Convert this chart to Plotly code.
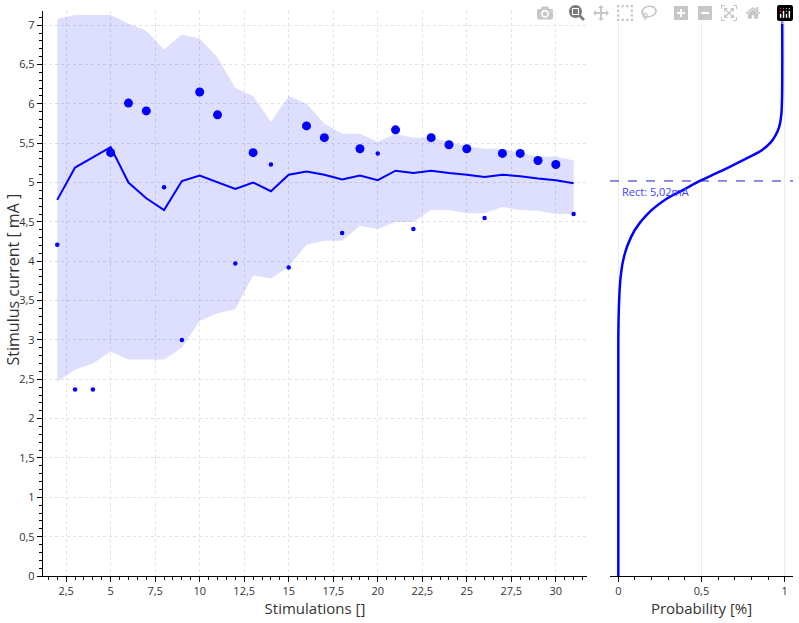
import plotly.graph_objects as go

# Stimulation index
stims = list(range(2, 32))

# Running estimate (solid line) and the confidence band around it
estimate = [4.78, 5.19, 5.32, 5.45, 5.00, 4.80, 4.65, 5.02, 5.09, 5.00,
            4.92, 5.00, 4.89, 5.10, 5.14, 5.10, 5.04, 5.09, 5.03, 5.15,
            5.12, 5.15, 5.12, 5.10, 5.07, 5.10, 5.08, 5.05, 5.03, 4.99]
band_upper = [7.08, 7.13, 7.13, 7.13, 7.02, 6.93, 6.69, 6.88, 6.83, 6.59,
              6.20, 6.10, 5.77, 6.10, 6.00, 5.75, 5.62, 5.62, 5.52, 5.62,
              5.57, 5.57, 5.52, 5.46, 5.43, 5.43, 5.38, 5.33, 5.33, 5.28]
band_lower = [2.47, 2.62, 2.70, 2.85, 2.75, 2.75, 2.75, 2.90, 3.24, 3.34,
              3.39, 3.82, 3.78, 3.93, 4.21, 4.26, 4.26, 4.45, 4.41, 4.50,
              4.50, 4.65, 4.65, 4.61, 4.61, 4.69, 4.65, 4.64, 4.60, 4.60]

# Stimuli drawn as large dots
big_x = [5, 6, 7, 10, 11, 13, 16, 17, 19, 21, 23, 24, 25, 27, 28, 29, 30]
big_y = [5.38, 6.01, 5.91, 6.15, 5.86, 5.38, 5.72, 5.57, 5.43, 5.67,
         5.57, 5.48, 5.43, 5.37, 5.37, 5.28, 5.23]

# Stimuli drawn as small dots
small_x = [2, 3, 4, 8, 9, 12, 14, 15, 18, 20, 22, 26, 31]
small_y = [4.21, 2.37, 2.37, 4.94, 3.00, 3.97, 5.23, 3.92, 4.36, 5.37,
           4.41, 4.55, 4.60]

# Probability curve (right panel)
curve_current = [0.0, 3.0, 3.3, 3.6, 3.8, 4.0, 4.2, 4.4, 4.6, 4.8, 4.9,
                 5.02, 5.1, 5.2, 5.3, 5.4, 5.5, 5.6, 5.7, 5.85, 6.05, 7.18]
curve_prob = [0.0, 0.0, 0.002, 0.007, 0.014, 0.028, 0.055, 0.100, 0.175,
              0.295, 0.385, 0.49, 0.57, 0.67, 0.765, 0.855, 0.912, 0.945,
              0.966, 0.979, 0.984, 0.985]

threshold = 5.02
threshold_label = "Rect: 5,02mA"

blue = "#0000ff"
axis_font = dict(family="Open Sans", size=11, color="#333333")
title_font = dict(family="Open Sans", size=15, color="#333333")

fig = go.Figure()

# confidence band
fig.add_trace(go.Scatter(x=stims, y=band_upper, mode="lines",
                         line=dict(width=0), hoverinfo="skip",
                         showlegend=False))
fig.add_trace(go.Scatter(x=stims, y=band_lower, mode="lines",
                         line=dict(width=0), fill="tonexty",
                         fillcolor="rgba(0,0,255,0.13)", hoverinfo="skip",
                         showlegend=False))

fig.add_trace(go.Scatter(x=stims, y=estimate, mode="lines",
                         line=dict(color=blue, width=2), showlegend=False))

fig.add_trace(go.Scatter(x=big_x, y=big_y, mode="markers",
                         marker=dict(color=blue, size=9), showlegend=False))
fig.add_trace(go.Scatter(x=small_x, y=small_y, mode="markers",
                         marker=dict(color=blue, size=4.5), showlegend=False))

fig.add_trace(go.Scatter(x=curve_prob, y=curve_current, mode="lines",
                         line=dict(color=blue, width=2.5, shape="spline",
                                   smoothing=1),
                         xaxis="x2", yaxis="y2", showlegend=False))

fig.add_shape(type="line", xref="x2 domain", yref="y2", x0=0, x1=1,
              y0=threshold, y1=threshold,
              line=dict(color="#1a1acc", width=1, dash="dash"))
fig.add_annotation(xref="x2", yref="y2", x=0.01, y=threshold,
                   xanchor="left", yanchor="top", showarrow=False,
                   text=threshold_label, yshift=-1,
                   font=dict(family="Open Sans", size=11, color="#4040ff"))

# y axis title as an annotation (axis titles ignore standoff without automargin)
fig.add_annotation(xref="paper", yref="paper", x=0, y=0.5,
                   xanchor="center", yanchor="middle", xshift=-31,
                   yshift=14, textangle=-90, showarrow=False,
                   text="Stimulus current [ mA ]",
                   font=dict(family="Open Sans", size=16, color="#333333"))

common = dict(showline=True, linecolor="black", linewidth=1.3,
              ticks="outside", ticklen=5, tickcolor="black",
              zeroline=False, tickfont=axis_font, automargin=False)

fig.update_layout(
    width=799, height=623,
    margin=dict(l=43, r=6, t=11, b=47),
    plot_bgcolor="white", paper_bgcolor="white",
    separators=", ",
    font=axis_font,
    xaxis=dict(domain=[0, 0.7253], range=[1.2, 31.75], dtick=2.5, tick0=0,
               minor=dict(dtick=0.5, ticks="outside", ticklen=3,
                          tickcolor="black", showgrid=False),
               showgrid=True, gridcolor="#e2e2e2", griddash="dot",
               title=dict(text="Stimulations []", font=title_font,
                          standoff=3),
               **common),
    yaxis=dict(range=[0, 7.18], dtick=0.5, tick0=0,
               minor=dict(dtick=0.1, ticks="outside", ticklen=3,
                          tickcolor="black", showgrid=False),
               showgrid=True, gridcolor="#e2e2e2", griddash="dot",
               **common),
    xaxis2=dict(domain=[0.756, 1.0], range=[-0.05, 1.05], dtick=0.5,
                tick0=0, anchor="y2",
                minor=dict(dtick=0.1, ticks="outside", ticklen=3,
                           tickcolor="black", showgrid=False),
                showgrid=True, gridcolor="#ececec", gridwidth=1,
                title=dict(text="Probability [%]", font=title_font,
                           standoff=3),
                **common),
    yaxis2=dict(anchor="x2", matches="y", range=[0, 7.18],
                showline=False, showgrid=False, showticklabels=False,
                ticks="", zeroline=False, automargin=False),
)

# drop the default 8px body margin so the figure fills the window
fig.write_html("out.html", post_script="document.body.style.margin='0px';")
